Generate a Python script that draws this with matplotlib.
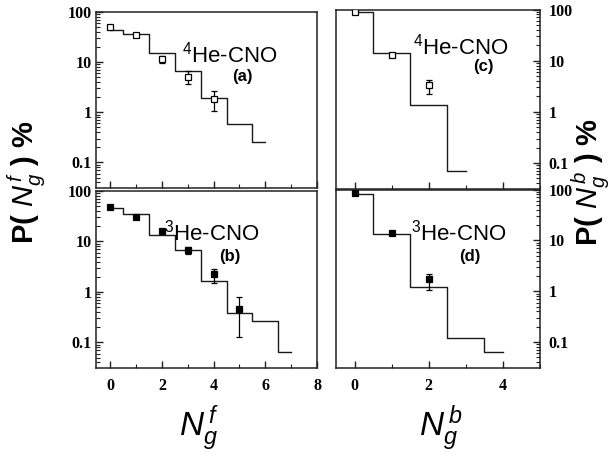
import matplotlib
matplotlib.use("Agg")
import matplotlib.pyplot as plt
from matplotlib.ticker import FixedLocator, FuncFormatter, MultipleLocator, LogLocator, NullFormatter

plt.rcParams['mathtext.fontset'] = 'custom'
plt.rcParams['mathtext.it'] = 'Liberation Sans:italic'
plt.rcParams['mathtext.rm'] = 'Liberation Sans'
plt.rcParams['mathtext.bf'] = 'Liberation Sans:bold'

# ---- data ----
# (a) 4He-CNO, forward
a_hist_x = [0, 1, 2, 3, 4, 5, 6]
a_hist_y = [43, 35.8, 14.9, 6.8, 1.94, 0.586, 0.256]
a_pts_x = [0, 1, 2, 3, 4]
a_pts_y = [51, 34.7, 11.7, 5.0, 1.88]
a_err_lo = [2.5, 2.0, 2.0, 1.3, 0.80]
a_err_hi = [2.5, 2.0, 1.5, 1.6, 0.75]

# (b) 3He-CNO, forward
b_hist_x = [0, 1, 2, 3, 4, 5, 6, 7]
b_hist_y = [45.4, 35.6, 13.3, 6.8, 1.65, 0.39, 0.26, 0.065]
b_pts_x = [0, 1, 2, 3, 4, 5]
b_pts_y = [47.5, 30.5, 16.1, 6.7, 2.24, 0.454]
b_err_lo = [2.0, 1.5, 1.0, 1.1, 0.75, 0.326]
b_err_hi = [2.0, 1.5, 1.0, 1.1, 0.66, 0.321]

# (c) 4He-CNO, backward
c_hist_x = [0, 1, 2, 3]
c_hist_y = [90, 14.2, 1.37, 0.07]
c_pts_x = [0, 1, 2]
c_pts_y = [88, 12.9, 3.4]
c_err_lo = [3.0, 1.0, 1.15]
c_err_hi = [3.0, 1.0, 0.7]

# (d) 3He-CNO, backward
d_hist_x = [0, 1, 2, 3, 4]
d_hist_y = [82, 13.1, 1.22, 0.121, 0.064]
d_pts_x = [0, 1, 2]
d_pts_y = [85, 13.9, 1.72]
d_err_lo = [3.0, 0.8, 0.64]
d_err_hi = [3.0, 0.8, 0.50]

ytick_vals = [0.1, 1, 10, 100]
W, H = 610, 461
fig = plt.figure(figsize=(W / 100, H / 100), dpi=100)

def pos(x0, x1, y0, y1):
    return [x0 / W, 1 - y1 / H, (x1 - x0) / W, (y1 - y0) / H]

axA = fig.add_axes(pos(96, 317, 12, 188))
axB = fig.add_axes(pos(96, 317, 191, 368))
axC = fig.add_axes(pos(336, 540, 9.5, 189))
axD = fig.add_axes(pos(336, 540, 189.5, 368))

def style(ax, right, bottom_labels, xlim, xmajor):
    ax.set_yscale('log')
    ax.set_ylim(0.031, 100)
    ax.set_xlim(*xlim)
    for s in ax.spines.values():
        s.set_linewidth(1.1)
        s.set_color('#222222')
    ax.yaxis.set_major_locator(FixedLocator(ytick_vals))
    ax.yaxis.set_major_formatter(FuncFormatter(lambda v, p: '%g' % v))
    ax.yaxis.set_minor_locator(LogLocator(base=10, subs=range(2, 10)))
    ax.yaxis.set_minor_formatter(NullFormatter())
    ax.xaxis.set_major_locator(MultipleLocator(xmajor))
    ax.xaxis.set_minor_locator(MultipleLocator(1))
    ax.tick_params(axis='both', which='both', direction='in', top=False, color='#222222')
    ax.tick_params(axis='both', which='major', length=5, width=1)
    ax.tick_params(axis='both', which='minor', length=3, width=0.8)
    if right:
        ax.tick_params(axis='y', which='both', left=False, right=True, labelleft=False, labelright=True, pad=6)
    else:
        ax.tick_params(axis='y', which='both', left=True, right=False, pad=3)
    ax.tick_params(axis='x', labelbottom=bottom_labels, pad=7)
    for lab in ax.get_xticklabels() + ax.get_yticklabels():
        lab.set_fontfamily('Liberation Serif')
        lab.set_fontweight('bold')
        lab.set_fontsize(11.5)

def draw(ax, hx, hy, px, py, elo, ehi, filled):
    ax.step(hx, hy, where='mid', color='#1a1a1a', lw=1.0)
    ax.errorbar(px, py, yerr=[elo, ehi], fmt='s', ms=5,
                mfc='black' if filled else 'white', mec='black', mew=0.9,
                ecolor='black', elinewidth=0.9, capsize=2.5, capthick=0.9, zorder=3)

draw(axA, a_hist_x, a_hist_y, a_pts_x, a_pts_y, a_err_lo, a_err_hi, False)
draw(axB, b_hist_x, b_hist_y, b_pts_x, b_pts_y, b_err_lo, b_err_hi, True)
draw(axC, c_hist_x, c_hist_y, c_pts_x, c_pts_y, c_err_lo, c_err_hi, False)
draw(axD, d_hist_x, d_hist_y, d_pts_x, d_pts_y, d_err_lo, d_err_hi, True)

style(axA, False, False, (-0.55, 8.0), 2)
style(axB, False, True, (-0.55, 8.0), 2)
style(axC, True, False, (-0.5, 5.0), 2)
style(axD, True, True, (-0.5, 5.0), 2)

lbl = dict(family='Liberation Sans', size=16, va='baseline')
bl = dict(family='Liberation Sans', size=12, weight='bold')

def ftxt(x, y, s, **kw):
    kw.setdefault('ha', 'center')
    kw.setdefault('va', 'center')
    fig.text(x / W, 1 - y / H, s, **kw)

ftxt(230, 63, r'$^{\mathrm{4}}$He-CNO', **lbl)
ftxt(242, 77, '(a)', **bl)
ftxt(212, 240, r'$^{\mathrm{3}}$He-CNO', **lbl)
ftxt(230, 256, '(b)', **bl)
ftxt(461, 55, r'$^{\mathrm{4}}$He-CNO', **lbl)
ftxt(483, 66, '(c)', **bl)
ftxt(459, 240, r'$^{\mathrm{3}}$He-CNO', **lbl)
ftxt(470, 256, '(d)', **bl)

ylab = dict(family='Liberation Sans', size=21, weight='bold', rotation=90,
            rotation_mode='anchor', ha='center', va='baseline')
ftxt(34, 182, r'P( $N_g^{\,f}$ ) %', **ylab)
ftxt(598, 182, r'P( $N_g^{\,b}$ ) %', **ylab)

ftxt(199, 428, r'$N_g^{\,f}$', family='Liberation Sans', size=24)
ftxt(441, 428, r'$N_g^{\,b}$', family='Liberation Sans', size=24)

fig.savefig('out.png', dpi=100)
